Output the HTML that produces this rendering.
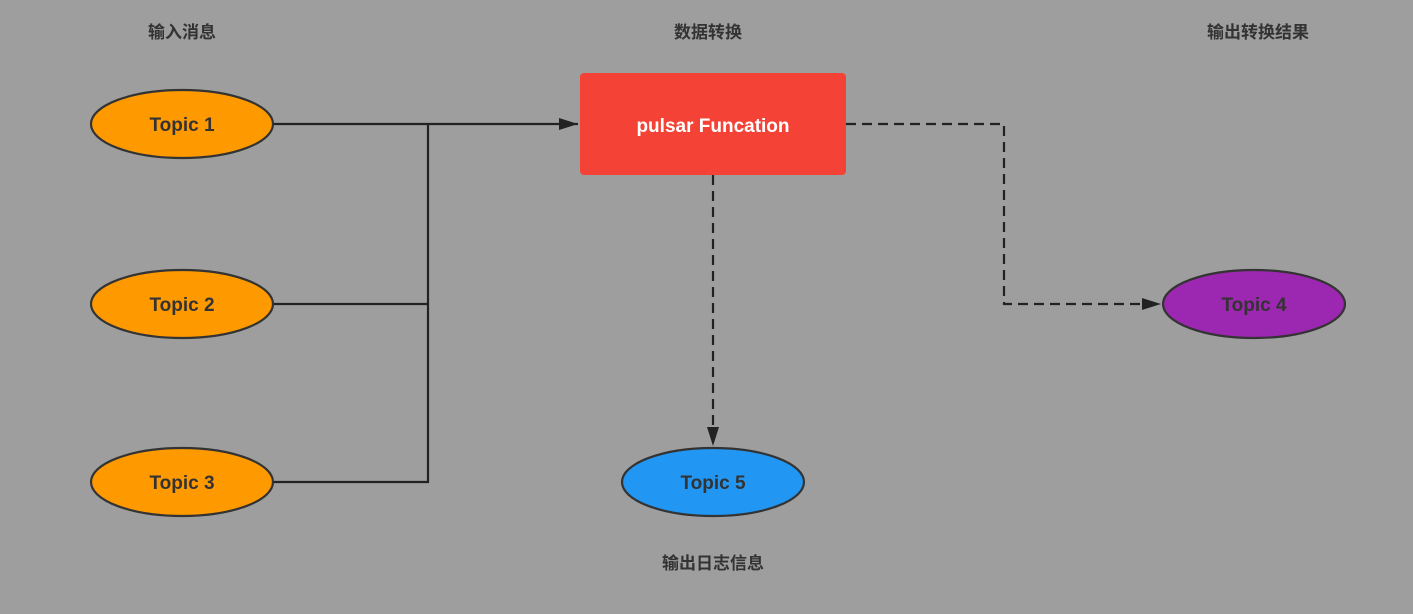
<!DOCTYPE html>
<html><head><meta charset="utf-8"><style>
html,body{margin:0;padding:0;background:#9e9e9e;}
svg{display:block}
text{font-family:"Liberation Sans","Noto Sans CJK SC",sans-serif;font-weight:bold;fill:#333;}
</style></head><body>
<svg width="1413" height="614" viewBox="0 0 1413 614" xmlns="http://www.w3.org/2000/svg">
<defs><marker id="a" markerWidth="10" markerHeight="10" refX="9" refY="5" orient="auto" markerUnits="userSpaceOnUse"><path d="M0,0 L20,5 L0,10z" transform="scale(0.5,1)" fill="#222"/></marker>
<marker id="b" markerWidth="20" markerHeight="12" refX="19" refY="6" orient="auto" markerUnits="userSpaceOnUse"><path d="M0,0 L19,6 L0,12z" fill="#222"/></marker></defs>
<rect width="1413" height="614" fill="#9e9e9e"/>
<text x="182" y="38" font-size="17" text-anchor="middle">输入消息</text>
<text x="708" y="38" font-size="17" text-anchor="middle">数据转换</text>
<text x="1258" y="38" font-size="17" text-anchor="middle">输出转换结果</text>
<text x="713" y="569" font-size="17" text-anchor="middle">输出日志信息</text>
<g stroke="#222" stroke-width="2.2" fill="none">
<path d="M273,124 H578" marker-end="url(#b)"/>
<path d="M273,304 H428 M273,482 H428 V124"/>
<g stroke-dasharray="10,6">
<path d="M846,124 H1004 V304 H1161" marker-end="url(#b)"/>
<path d="M713,175 V446" marker-end="url(#b)"/>
</g></g>
<rect x="580" y="73" width="266" height="102" rx="4" fill="#f44336"/>
<text x="713" y="132" font-size="19" text-anchor="middle" style="fill:#fff">pulsar Funcation</text>
<g stroke="#333" stroke-width="2.2">
<ellipse cx="182" cy="124" rx="91" ry="34" fill="#ff9900"/>
<ellipse cx="182" cy="304" rx="91" ry="34" fill="#ff9900"/>
<ellipse cx="182" cy="482" rx="91" ry="34" fill="#ff9900"/>
<ellipse cx="1254" cy="304" rx="91" ry="34" fill="#9c27b0"/>
<ellipse cx="713" cy="482" rx="91" ry="34" fill="#2196f3"/>
</g>
<g font-size="19" text-anchor="middle">
<text x="182" y="131">Topic 1</text>
<text x="182" y="311">Topic 2</text>
<text x="182" y="489">Topic 3</text>
<text x="1254" y="311">Topic 4</text>
<text x="713" y="489">Topic 5</text>
</g>
</svg>
</body></html>
